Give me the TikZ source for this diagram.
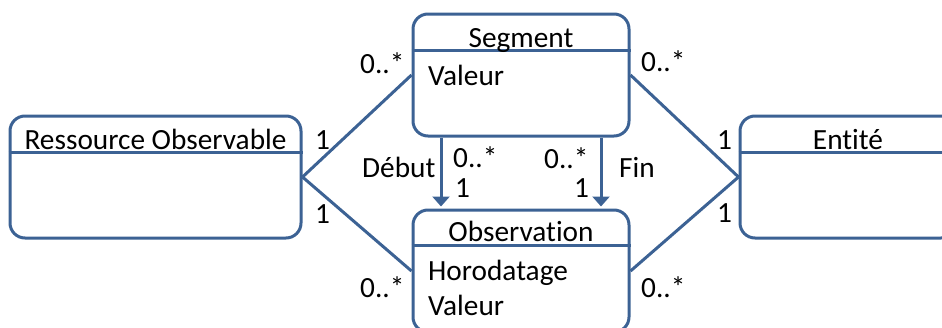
\documentclass[tikz,border=0pt]{standalone}
\usepackage{fontspec}
\setmainfont[Ligatures={NoCommon}]{Carlito}
\usetikzlibrary{arrows.meta}
\definecolor{umlblue}{RGB}{60,98,148}
\tikzset{
  umlbox/.style={draw=umlblue, line width=3pt, rounded corners=15pt, fill=white, inner sep=0pt},
  conn/.style={draw=umlblue, line width=3pt},
  arr/.style={conn, -{Triangle[width=17pt,length=10pt]}},
  hdr/.style={draw=umlblue, line width=3pt},
  lbl/.style={anchor=base west, inner sep=0pt, font=\fontsize{29.3}{34}\selectfont},
  ttl/.style={anchor=base, inner sep=0pt, font=\fontsize{29.3}{34}\selectfont},
}
\begin{document}
\begin{tikzpicture}[x=1pt,y=-1pt]
\useasboundingbox (0,0) rectangle (942,327);
\clip (0,0) rectangle (942,327);
% boxes
\node[umlbox, minimum width=291pt, minimum height=122pt] (ro) at (155.5,177) {};
\node[umlbox, minimum width=216pt, minimum height=122pt] (seg) at (521,75) {};
\node[umlbox, minimum width=216pt, minimum height=122pt] (obs) at (521,271) {};
\node[umlbox, minimum width=216pt, minimum height=122pt] (ent) at (848,177) {};
% header lines
\foreach \b/\d in {ro/38, seg/38, obs/37, ent/38}{
  \draw[hdr] ([yshift=-\d pt]\b.north west) -- ([yshift=-\d pt]\b.north east);
}
% titles
\node[ttl] (rot) at (155.5,149) {Ressource Observable};
\node[ttl] (segt) at (521,47) {Segment};
\node[ttl] (obst) at (521,241) {Observation};
\node[ttl] (entt) at (848,149) {Entité};
% attributes
\node[lbl] (sega) at (428,85) {Valeur};
\node[lbl] (obsa) at (428,280) {Horodatage};
\node[lbl] (obsb) at (428,315) {Valeur};
% connectors
\draw[conn] (ro.east) -- (seg.west);
\draw[conn] (ro.east) -- (obs.west);
\draw[conn] (ent.west) -- (seg.east);
\draw[conn] (ent.west) -- (obs.east);
\draw[arr] ([xshift=-80pt]seg.south) -- ([xshift=-80pt,yshift=2pt]obs.north);
\draw[arr] ([xshift=80pt]seg.south) -- ([xshift=80pt,yshift=2pt]obs.north);
% multiplicities
\node[lbl] (m1) at (360,73) {0..*};
\node[lbl] (m2) at (315,149) {1};
\node[lbl] (m3) at (315,223) {1};
\node[lbl] (m4) at (360,297) {0..*};
\node[lbl] (deb) at (362,177) {Début};
\node[lbl] (m5) at (453,167) {0..*};
\node[lbl] (m6) at (455,197) {1};
\node[lbl] (m7) at (544,168) {0..*};
\node[lbl] (m8) at (574,197) {1};
\node[lbl] (fin) at (619,177) {Fin};
\node[lbl] (m9) at (641,71) {0..*};
\node[lbl] (m10) at (717,149) {1};
\node[lbl] (m11) at (717,222) {1};
\node[lbl] (m12) at (641,297) {0..*};
\end{tikzpicture}
\end{document}
